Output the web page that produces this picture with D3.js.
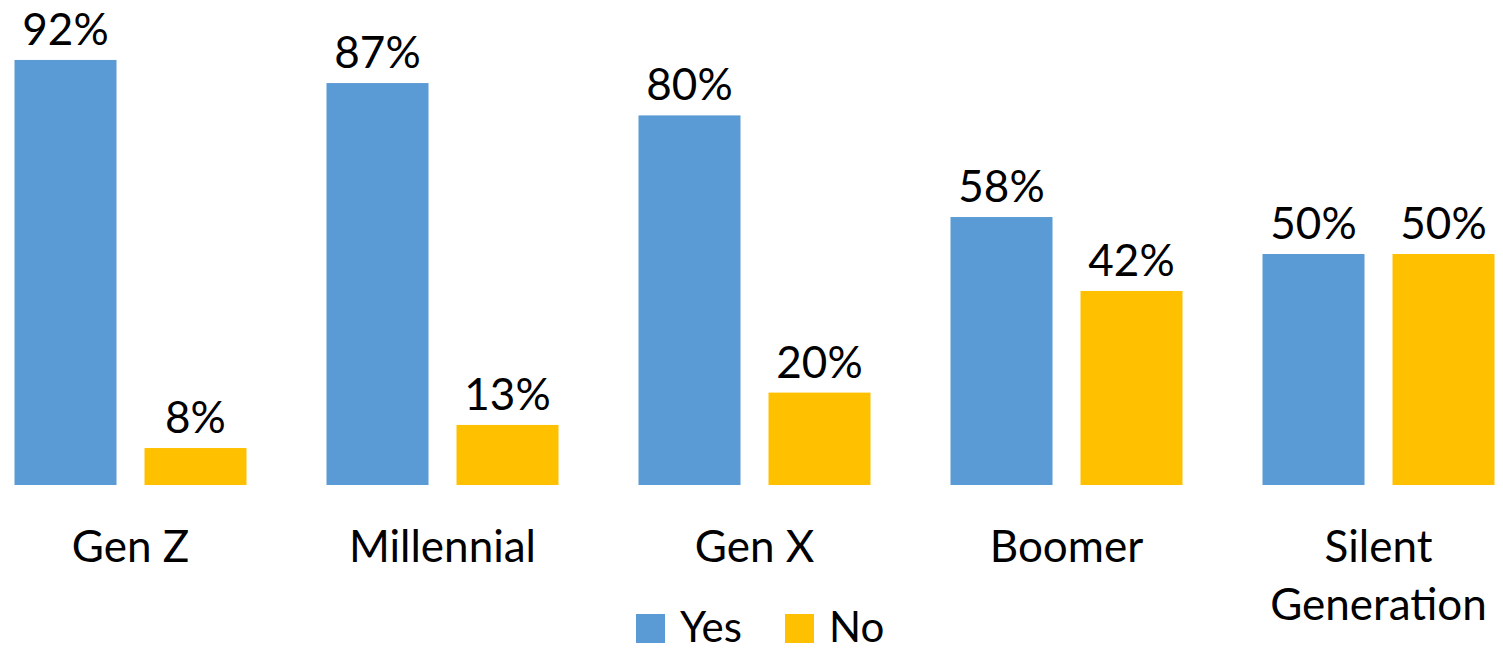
<!DOCTYPE html>
<html>
<head>
<meta charset="utf-8">
<script src="https://cdn.jsdelivr.net/npm/d3@7"></script>
<style>
  html, body { margin: 0; padding: 0; background: #fff; }
  svg text { font-family: Lato, "Open Sans", sans-serif; fill: #000; }
</style>
</head>
<body>
<div id="chart"></div>
<script>
// data
const generations = ["Gen Z", "Millennial", "Gen X", "Boomer", "Silent Generation"];
const seriesNames = ["Yes", "No"];
const yesValues = [92, 87, 80, 58, 50];
const noValues = [8, 13, 20, 42, 50];
const colors = ["#5B9BD5", "#FFC000"];

const width = 1503;
const height = 653;
const baseY = 485;

const svg = d3.select("#chart")
  .append("svg")
  .attr("width", width)
  .attr("height", height);

// outer band: one slot per generation, 312px step
const x0 = d3.scaleBand()
  .domain(generations)
  .range([-25.5, 1534.5])
  .padding(0);

// inner band: yes / no side by side
const x1 = d3.scaleBand()
  .domain(seriesNames)
  .range([40, 272])
  .paddingInner(28 / 130)
  .paddingOuter(0);

const y = d3.scaleLinear().domain([0, 100]).range([baseY, baseY - 462]);

const color = d3.scaleOrdinal().domain(seriesNames).range(colors);

const rows = generations.map((g, i) => ({
  gen: g,
  values: [
    { key: "Yes", value: yesValues[i] },
    { key: "No", value: noValues[i] }
  ]
}));

const groups = svg.selectAll(".group")
  .data(rows)
  .enter()
  .append("g")
  .attr("class", "group")
  .attr("transform", (d) => `translate(${x0(d.gen)},0)`);

groups.selectAll("rect")
  .data((d) => d.values)
  .enter()
  .append("rect")
  .attr("x", (d) => x1(d.key))
  .attr("y", (d) => y(d.value))
  .attr("width", x1.bandwidth())
  .attr("height", (d) => baseY - y(d.value))
  .attr("fill", (d) => color(d.key));

groups.selectAll(".val")
  .data((d) => d.values)
  .enter()
  .append("text")
  .attr("class", "val")
  .attr("x", (d) => x1(d.key) + x1.bandwidth() / 2)
  .attr("y", (d) => y(d.value) - 15)
  .attr("text-anchor", "middle")
  .style("font-size", "44px")
  .text((d) => d.value + "%");

// category labels, wrapped like the original axis
const xAxis = svg.append("g")
  .attr("transform", `translate(0,${baseY})`)
  .call(d3.axisBottom(x0).tickSize(0).tickPadding(0));

xAxis.select(".domain").remove();
xAxis.selectAll("text")
  .attr("y", 77)
  .attr("dy", 0)
  .style("font-size", "44px")
  .style("font-family", "Lato, 'Open Sans', sans-serif")
  .attr("fill", "#000")
  .each(function () {
    const t = d3.select(this);
    const words = t.text().split(" ");
    if (words.length > 1 && t.text().length > 12) {
      t.text(null);
      words.forEach((w, i) => {
        t.append("tspan")
          .attr("x", 0)
          .attr("dy", i === 0 ? 0 : 58)
          .text(w);
      });
    }
  });

// legend
const legend = svg.append("g").attr("transform", "translate(636,612)");
const legendX = [0, 149];
const items = legend.selectAll("g")
  .data(seriesNames)
  .enter()
  .append("g")
  .attr("transform", (d, i) => `translate(${legendX[i]},0)`);

items.append("rect")
  .attr("y", 2)
  .attr("width", 29)
  .attr("height", 29)
  .attr("fill", (d) => color(d));

items.append("text")
  .attr("x", 44)
  .attr("y", 30)
  .style("font-size", "42px")
  .text((d) => d);
</script>
</body>
</html>
